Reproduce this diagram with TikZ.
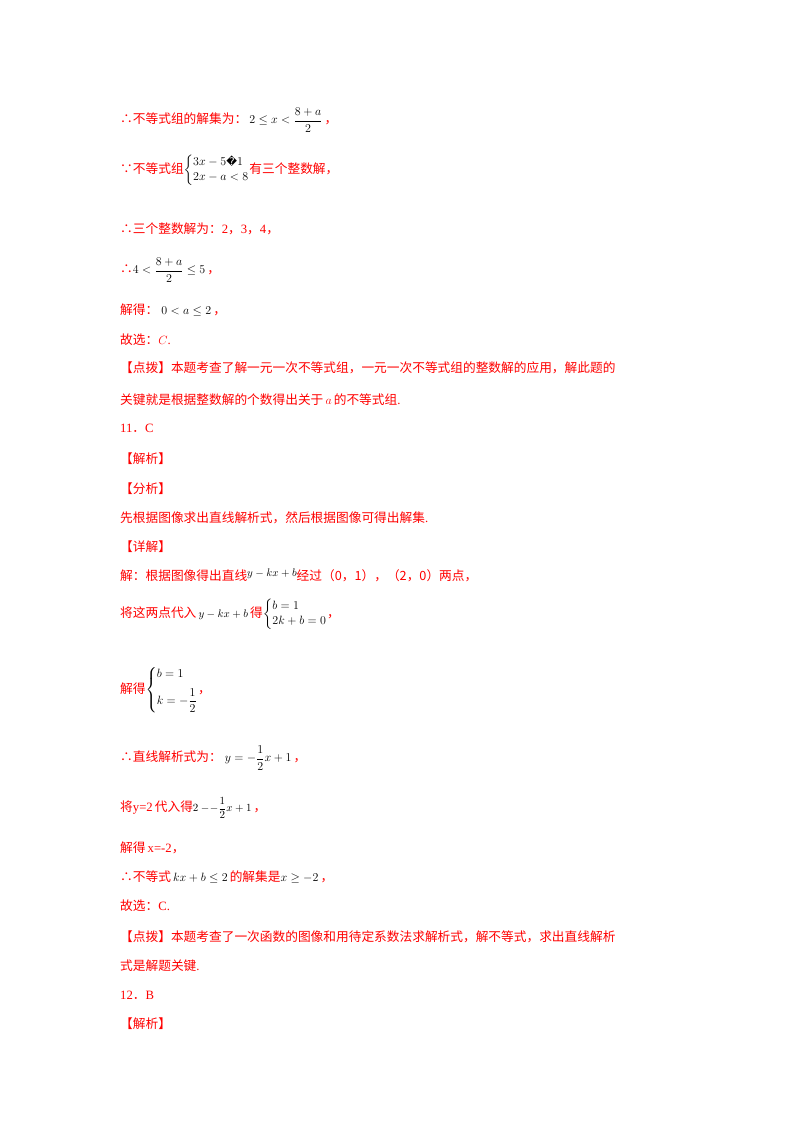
\documentclass[tikz,border=0pt]{standalone}
\usepackage{amsmath,amssymb}
\usepackage{fontspec}
\setmainfont{Liberation Serif}
\newfontfamily\cjk{Noto Sans CJK SC}
\newfontfamily\djv{DejaVu Sans}
\newcommand{\sysb}[1]{\left\{\begin{array}{@{}l@{}}#1\end{array}\right.}
\newcommand{\sm}{\fontsize{10.5}{12}\selectfont}
\begin{document}
\begin{tikzpicture}[x=1pt,y=1pt,
  ln/.style={anchor=west,inner sep=0pt,text=red,font=\fontsize{12.7}{15}\selectfont}]
\useasboundingbox (0,0) rectangle (800,-1132);
\fill[white] (0,0) rectangle (800,-1132);
\newcommand{\blk}[1]{\textcolor{black}{#1}}
\node[ln] (l1) at (120,-120) {{\cjk ∴不等式组的解集为：}\,\blk{$2\le x<\dfrac{8+a}{2}$}\,{\cjk ，}};
\node[ln] (l2) at (120,-170) {{\cjk ∵不等式组}\blk{$\sysb{3x-5\text{\djv\sm �}1\\ 2x-a<8}$}{\cjk 有三个整数解，}};
\node[ln] (l3) at (120,-229) {{\cjk ∴三个整数解为：}2{\cjk ，}3{\cjk ，}4{\cjk ，}};
\node[ln] (l4) at (120,-270) {{\cjk ∴}\blk{$4<\dfrac{8+a}{2}\le5$}\,{\cjk ，}};
\node[ln] (l5) at (120,-310) {{\cjk 解得：}\ \blk{$0<a\le2$}\,{\cjk ，}};
\node[ln] (l6) at (120,-340) {{\cjk 故选：}$C$.};
\node[ln] (l7) at (120,-368) {{\cjk 【点拨】本题考查了解一元一次不等式组，一元一次不等式组的整数解的应用，解此题的}};
\node[ln] (l8) at (120,-400) {{\cjk 关键就是根据整数解的个数得出关于}\,$a$\,{\cjk 的不等式组}.};
\node[ln] (l9) at (120,-428) {11{\cjk ．}C};
\node[ln] (l10) at (120,-459) {{\cjk 【解析】}};
\node[ln] (l11) at (120,-489) {{\cjk 【分析】}};
\node[ln] (l12) at (120,-518) {{\cjk 先根据图像求出直线解析式，然后根据图像可得出解集}.};
\node[ln] (l13) at (120,-547) {{\cjk 【详解】}};
\node[ln] (l14) at (120,-575) {{\cjk 解：根据图像得出直线}\blk{\raisebox{4pt}{\sm$y-kx+b$}}{\cjk 经过（0，1），（2，0）两点，}};
\node[ln] (l15) at (120,-614) {{\cjk 将这两点代入}\,\blk{\sm$y-kx+b$}\,{\cjk 得}\blk{$\sysb{b=1\\ 2k+b=0}$}{\cjk ，}};
\node[ln] (l16) at (120,-690) {{\cjk 解得}\blk{$\sysb{b=1\\[6pt] k=-\dfrac12}$}{\cjk ，}};
\node[ln] (l17) at (120,-758) {{\cjk ∴直线解析式为：}\ \blk{$y=-\dfrac12x+1$}\,{\cjk ，}};
\node[ln] (l18) at (120,-808) {{\cjk 将}y=2\,{\cjk 代入得}\blk{\sm$2-\!-\dfrac12x+1$}\,{\cjk ，}};
\node[ln] (l19) at (120,-848) {{\cjk 解得}\,x=-2{\cjk ，}};
\node[ln] (l20) at (120,-877) {{\cjk ∴不等式}\,\blk{$kx+b\le2$}\,{\cjk 的解集是}\blk{$x\ge-2$}\,{\cjk ，}};
\node[ln] (l21) at (120,-906) {{\cjk 故选：}C.};
\node[ln] (l22) at (120,-937) {{\cjk 【点拨】本题考查了一次函数的图像和用待定系数法求解析式，解不等式，求出直线解析}};
\node[ln] (l23) at (120,-966) {{\cjk 式是解题关键}.};
\node[ln] (l24) at (120,-995) {12{\cjk ．}B};
\node[ln] (l25) at (120,-1024) {{\cjk 【解析】}};
\end{tikzpicture}
\end{document}
